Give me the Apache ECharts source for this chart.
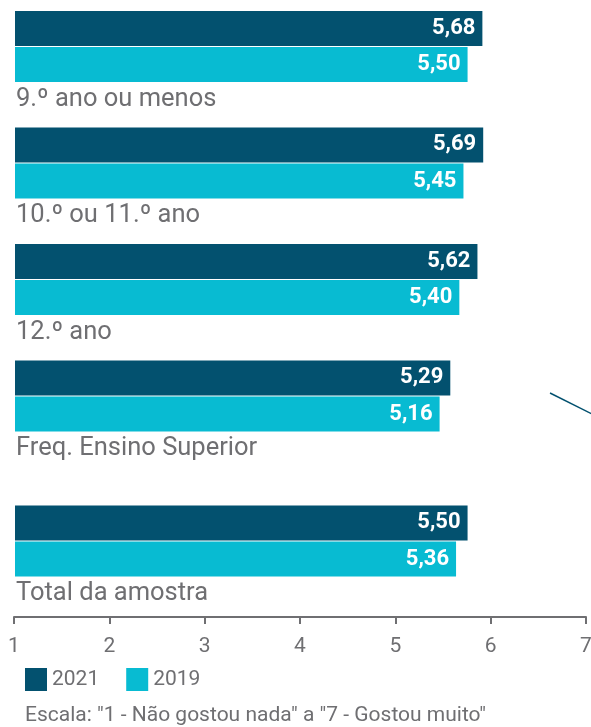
<!DOCTYPE html>
<html lang="pt">
<head>
  <meta charset="UTF-8">
  <title>Escolaridade</title>
  <script src="https://cdn.jsdelivr.net/npm/echarts@6/dist/echarts.min.js"></script>
  <style>
    body { margin: 0; background: #fff; }
  </style>
</head>
<body>
<div id="chart" style="width: 591px;height: 727px"></div>
<script>
  var chart = echarts.init(document.getElementById('chart'));

  // dados
  var categorias = ['9.º ano ou menos', '10.º ou 11.º ano', '12.º ano', 'Freq. Ensino Superior'];
  var total = ['Total da amostra'];
  var v2021 = [5.68, 5.69, 5.62, 5.29];
  var v2019 = [5.50, 5.45, 5.40, 5.16];
  var total2021 = [5.50];
  var total2019 = [5.36];
  var escala = [1, 2, 3, 4, 5, 6, 7];

  var cor2021 = '#03516f';
  var cor2019 = '#08bbd2';
  var cinza = '#6f6f72';
  var fonte = 'Roboto';

  function fmt(p) {
    return p.value.toFixed(2).replace('.', ',');
  }

  var valLabel = {
    show: true,
    position: 'insideRight',
    distance: 7,
    color: '#fff',
    fontFamily: fonte,
    fontWeight: 'bold',
    fontSize: 22,
    formatter: fmt
  };

  var catLabel = {
    inside: true,
    margin: 1,
    align: 'left',
    verticalAlign: 'top',
    padding: [40, 0, 0, 0],
    color: cinza,
    fontFamily: fonte,
    fontSize: 25.5
  };

  function barra(nome, dados, cor, idx) {
    return {
      name: nome,
      type: 'bar',
      xAxisIndex: idx,
      yAxisIndex: idx,
      data: dados,
      barWidth: 35,
      barGap: '3%',
      itemStyle: {color: cor},
      label: valLabel,
      animation: false
    };
  }

  var eixoCat = {
    type: 'category',
    inverse: true,
    axisLine: {show: false},
    axisTick: {show: false},
    axisLabel: catLabel
  };

  option = {
    grid: [
      {left: 15, width: 576, top: -11.75, height: 466, outerBoundsMode: 'none'},
      {left: 15, width: 576, top: 482.75, height: 116.5, outerBoundsMode: 'none'},
      {left: 14, right: 5, top: 616, height: 1, outerBoundsMode: 'none'}
    ],
    xAxis: [
      {gridIndex: 0, type: 'value', min: 0, max: 7, show: false},
      {gridIndex: 1, type: 'value', min: 0, max: 7, show: false},
      {
        gridIndex: 2, type: 'value', min: escala[0], max: escala[escala.length - 1], interval: 1,
        position: 'bottom',
        splitLine: {show: false},
        axisLine: {show: true, lineStyle: {color: cinza, width: 2}},
        axisTick: {show: true, length: 7, lineStyle: {color: cinza, width: 2}},
        axisLabel: {color: cinza, fontFamily: fonte, fontSize: 21, margin: 14, padding: [5, 0, 0, 0]}
      }
    ],
    yAxis: [
      Object.assign({gridIndex: 0, data: categorias}, eixoCat),
      Object.assign({gridIndex: 1, data: total}, eixoCat),
      {gridIndex: 2, type: 'value', show: false}
    ],
    legend: {
      left: 25,
      top: 668,
      padding: 0,
      icon: 'rect',
      itemWidth: 22,
      itemHeight: 23,
      itemGap: 27,
      textStyle: {color: cinza, fontFamily: fonte, fontSize: 21},
      data: ['2021', '2019']
    },
    graphic: [
      {
        type: 'text', left: 25, top: 705,
        style: {text: 'Escala: "1 - Não gostou nada" a "7 - Gostou muito"', fill: cinza, font: '21px Roboto'}
      },
      {
        type: 'line',
        shape: {x1: 550, y1: 393, x2: 592, y2: 414},
        style: {stroke: cor2021, lineWidth: 1.5}
      }
    ],
    series: [
      barra('2021', v2021, cor2021, 0),
      barra('2019', v2019, cor2019, 0),
      barra('2021', total2021, cor2021, 1),
      barra('2019', total2019, cor2019, 1)
    ]
  };

  chart.setOption(option);
</script>
</body>
</html>
